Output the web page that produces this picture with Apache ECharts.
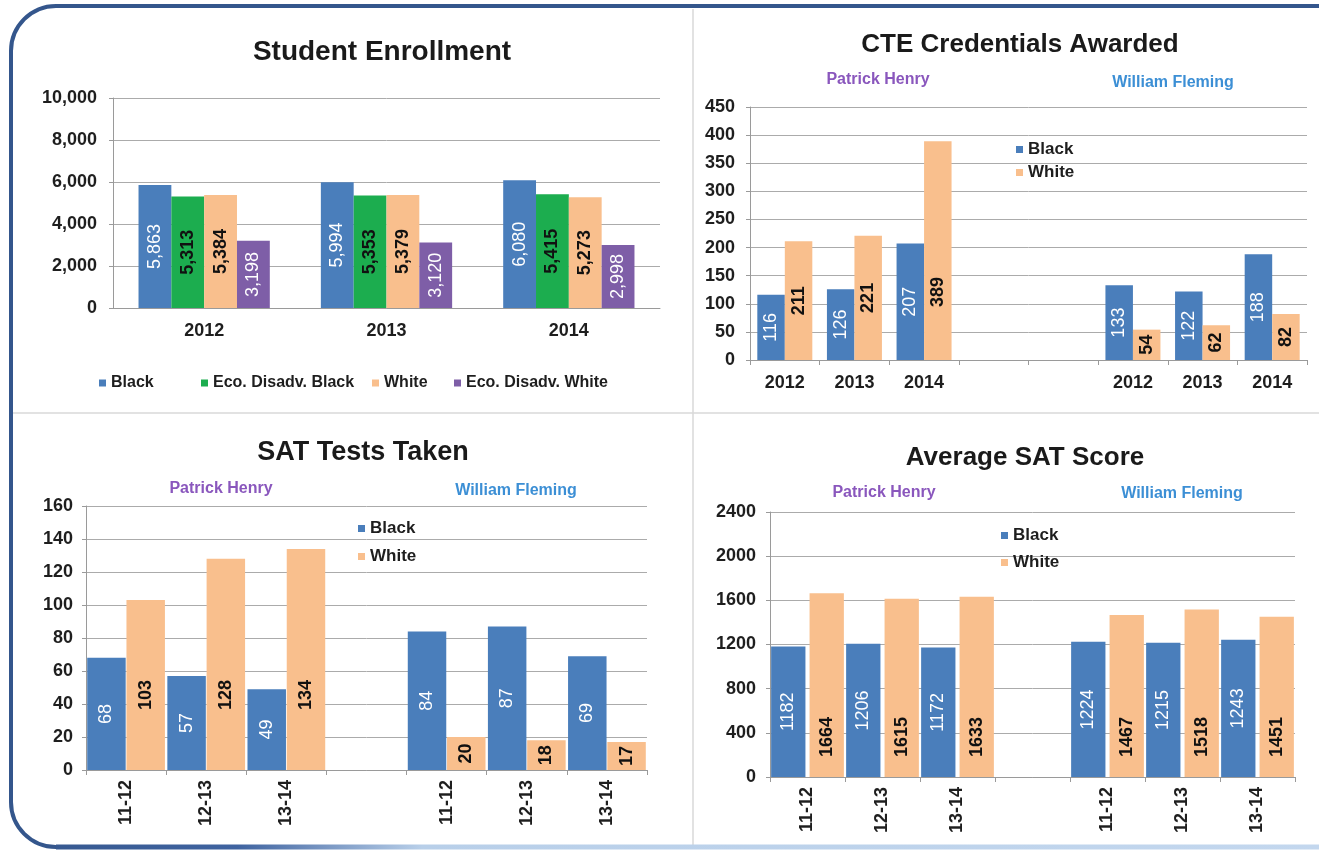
<!DOCTYPE html>
<html>
<head>
<meta charset="utf-8">
<script src="https://cdn.jsdelivr.net/npm/echarts@6/dist/echarts.min.js"></script>
<style>
html,body{margin:0;padding:0;background:#ffffff;}
#c{width:1319px;height:850px;}
</style>
</head>
<body>
<div id="c"></div>
<script>
// ---------------- DATA ----------------
const ENROLL_YEARS = ['2012', '2013', '2014'];
const ENROLL_BLACK = [5863, 5994, 6080];
const ENROLL_ECO_BLACK = [5313, 5353, 5415];
const ENROLL_WHITE = [5384, 5379, 5273];
const ENROLL_ECO_WHITE = [3198, 3120, 2998];
const ENROLL_TICKS = [0, 2000, 4000, 6000, 8000, 10000];

const CTE_YEARS = ['2012', '2013', '2014', '', '', '2012', '2013', '2014'];
const CTE_BLACK = [116, 126, 207, null, null, 133, 122, 188];
const CTE_WHITE = [211, 221, 389, null, null, 54, 62, 82];
const CTE_TICKS = [0, 50, 100, 150, 200, 250, 300, 350, 400, 450];

const SAT_YEARS = ['11-12', '12-13', '13-14', '', '11-12', '12-13', '13-14'];
const SAT_TAKEN_BLACK = [68, 57, 49, null, 84, 87, 69];
const SAT_TAKEN_WHITE = [103, 128, 134, null, 20, 18, 17];
const SAT_TAKEN_TICKS = [0, 20, 40, 60, 80, 100, 120, 140, 160];

const SAT_SCORE_BLACK = [1182, 1206, 1172, null, 1224, 1215, 1243];
const SAT_SCORE_WHITE = [1664, 1615, 1633, null, 1467, 1518, 1451];
const SAT_SCORE_TICKS = [0, 400, 800, 1200, 1600, 2000, 2400];

// ---------------- STYLE ----------------
const FONT = '"Liberation Sans", Arial, Helvetica, sans-serif';
const C_BLUE = '#4a7ebb';
const C_GREEN = '#1cad4f';
const C_ORANGE = '#f9bf8d';
const C_PURPLE = '#7e5ea7';
const C_AXIS = '#9a9a9a';
const C_GRID = '#ababab';
const C_TEXT = '#1e1e1e';
const C_PH = '#8a57bd';
const C_WF = '#3c8fd5';

const chart = echarts.init(document.getElementById('c'), null, {renderer: 'canvas'});

const grids = [
  {left: 113, top: 98, width: 547, height: 210},
  {left: 750, top: 107, width: 557, height: 253},
  {left: 86, top: 506, width: 561, height: 264},
  {left: 770, top: 512, width: 525, height: 265}
];

const axisText = {color: C_TEXT, fontSize: 18, fontWeight: 'bold', fontFamily: FONT};

function catAxis(idx, cats, ticks, rotate, margin) {
  return {
    gridIndex: idx, type: 'category', data: cats,
    axisLine: {show: true, lineStyle: {color: C_AXIS, width: 1}},
    axisTick: {show: ticks, length: 5, lineStyle: {color: C_AXIS}},
    axisLabel: Object.assign({interval: 0, rotate: rotate, margin: margin}, axisText),
    splitLine: {show: false}
  };
}
function valAxis(idx, ticks, comma, margin) {
  return {
    gridIndex: idx, type: 'value',
    min: ticks[0], max: ticks[ticks.length - 1], interval: ticks[1] - ticks[0],
    axisLine: {show: true, lineStyle: {color: C_AXIS, width: 1}},
    axisTick: {show: true, inside: false, length: 4, lineStyle: {color: C_AXIS}},
    axisLabel: Object.assign({margin: margin, formatter: v => comma ? v.toLocaleString('en-US') : String(v)}, axisText),
    splitLine: {show: true, lineStyle: {color: C_GRID, width: 1}}
  };
}

function bar(name, data, color, idx, labelColor, comma, catGap, gap) {
  const light = labelColor === '#ffffff';
  return {
    type: 'bar', name: name, data: data, xAxisIndex: idx, yAxisIndex: idx,
    itemStyle: {color: color},
    barGap: gap, barCategoryGap: catGap,
    label: {
      show: true, position: 'inside', rotate: 90,
      color: labelColor, fontSize: 18, fontWeight: light ? 'normal' : 'bold', fontFamily: FONT,
      formatter: p => comma ? Number(p.value).toLocaleString('en-US') : String(p.value)
    },
    emphasis: {disabled: true},
    animation: false
  };
}

function bottomLabel(dist) {
  return {position: 'insideBottom', distance: dist, align: 'left', verticalAlign: 'middle'};
}

// special label placements as in reference
const cteWhiteData = CTE_WHITE.map((v, i) => (i === 2 ? {value: v, label: bottomLabel(53)} : v));
const satTakenWhiteData = SAT_TAKEN_WHITE.map((v, i) => (i < 3 && v != null ? {value: v, label: bottomLabel(60)} : v));
const satScoreWhiteData = SAT_SCORE_WHITE.map(v => (v == null ? v : {value: v, label: bottomLabel(20)}));

function txt(text, x, y, size, color, weight) {
  return {
    type: 'text', x: x, y: y, silent: true, z: 100,
    style: {
      text: text, fill: color,
      font: (weight || 'bold') + ' ' + size + 'px ' + FONT,
      align: 'center', verticalAlign: 'middle',
      textAlign: 'center', textVerticalAlign: 'middle'
    }
  };
}

function legend(data, left, top, orient, gap, size) {
  return {
    data: data, left: left, top: top, orient: orient, itemGap: gap,
    icon: 'rect', itemWidth: 7, itemHeight: 7, selectedMode: false,
    textStyle: {color: C_TEXT, fontSize: size || 17, fontWeight: 'bold', fontFamily: FONT}, padding: 0
  };
}

const option = {
  backgroundColor: '#ffffff',
  animation: false,
  grid: grids,
  xAxis: [
    catAxis(0, ENROLL_YEARS, false, 0, 14),
    catAxis(1, CTE_YEARS, true, 0, 14),
    catAxis(2, SAT_YEARS, true, 90, 10),
    catAxis(3, SAT_YEARS, true, 90, 10)
  ],
  yAxis: [
    valAxis(0, ENROLL_TICKS, true, 16),
    valAxis(1, CTE_TICKS, false, 15),
    valAxis(2, SAT_TAKEN_TICKS, false, 13),
    valAxis(3, SAT_SCORE_TICKS, false, 14)
  ],
  legend: [
    legend(['Black'], 99, 375, 'horizontal', 0, 16),
    legend(['Eco. Disadv. Black'], 201, 375, 'horizontal', 0, 16),
    legend(['White'], 372, 375, 'horizontal', 0, 16),
    legend(['Eco. Disadv. White'], 454, 375, 'horizontal', 0, 16),
    legend(['Black', 'White'], 1016, 141, 'vertical', 6),
    legend(['Black', 'White'], 358, 520, 'vertical', 11),
    legend(['Black', 'White'], 1001, 527, 'vertical', 10)
  ],
  series: [
    bar('Black', ENROLL_BLACK, C_BLUE, 0, '#ffffff', true, '28%', '0%'),
    bar('Eco. Disadv. Black', ENROLL_ECO_BLACK, C_GREEN, 0, '#111111', true, '28%', '0%'),
    bar('White', ENROLL_WHITE, C_ORANGE, 0, '#111111', true, '28%', '0%'),
    bar('Eco. Disadv. White', ENROLL_ECO_WHITE, C_PURPLE, 0, '#ffffff', true, '28%', '0%'),

    bar('Black', CTE_BLACK, C_BLUE, 1, '#ffffff', false, '21%', '0%'),
    bar('White', cteWhiteData, C_ORANGE, 1, '#111111', false, '21%', '0%'),

    bar('Black', SAT_TAKEN_BLACK, C_BLUE, 2, '#ffffff', false, '3%', '2%'),
    bar('White', satTakenWhiteData, C_ORANGE, 2, '#111111', false, '3%', '2%'),

    bar('Black', SAT_SCORE_BLACK, C_BLUE, 3, '#ffffff', false, '3%', '12%'),
    bar('White', satScoreWhiteData, C_ORANGE, 3, '#111111', false, '3%', '12%')
  ],
  graphic: [
    // panel dividers
    {type: 'line', silent: true, z: 0, shape: {x1: 693, y1: 9, x2: 693, y2: 845}, style: {stroke: '#d9d9d9', lineWidth: 1.5}},
    {type: 'line', silent: true, z: 0, shape: {x1: 12, y1: 413, x2: 1319, y2: 413}, style: {stroke: '#d9d9d9', lineWidth: 1.5}},
    // frame
    {type: 'rect', silent: true, z: 50, shape: {x: 11, y: 6, width: 1400, height: 841, r: [45, 0, 0, 45]},
      style: {fill: 'none', stroke: '#34568c', lineWidth: 4}},
    {type: 'line', silent: true, z: 51, shape: {x1: 56, y1: 847, x2: 1319, y2: 847},
      style: {lineWidth: 5, stroke: {type: 'linear', x: 0, y: 0, x2: 1319, y2: 0, global: true,
        colorStops: [{offset: 0, color: '#34568c'}, {offset: 0.18, color: '#3f63a0'}, {offset: 0.32, color: '#b8cfe9'}, {offset: 1, color: '#c3d7ee'}]}}},
    // titles
    txt('Student Enrollment', 382, 52, 28, '#1a1a1a'),
    txt('CTE Credentials Awarded', 1020, 45, 26, '#1a1a1a'),
    txt('SAT Tests Taken', 363, 453, 27, '#1a1a1a'),
    txt('Average SAT Score', 1025, 458, 26, '#1a1a1a'),
    // school names
    txt('Patrick Henry', 878, 80, 16, C_PH),
    txt('William Fleming', 1173, 83, 16, C_WF),
    txt('Patrick Henry', 221, 489, 16, C_PH),
    txt('William Fleming', 516, 491, 16, C_WF),
    txt('Patrick Henry', 884, 493, 16, C_PH),
    txt('William Fleming', 1182, 494, 16, C_WF)
  ]
};

chart.setOption(option);
</script>
</body>
</html>
